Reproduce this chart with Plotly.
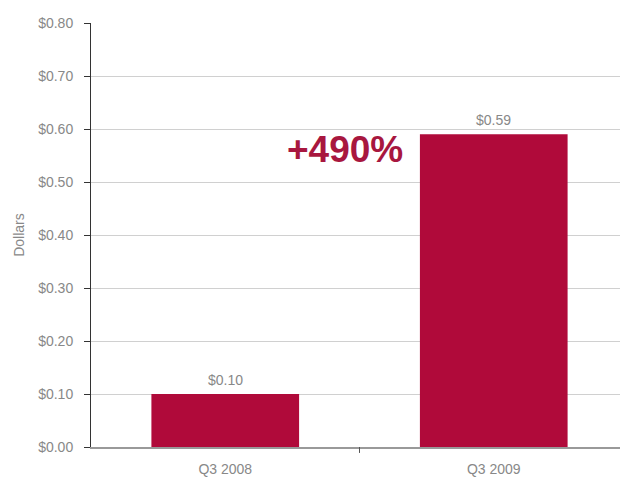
import plotly.graph_objects as go

categories = ["Q3 2008", "Q3 2009"]
values = [0.10, 0.59]
value_labels = ["$0.10", "$0.59"]
tick_vals = [0, 0.1, 0.2, 0.3, 0.4, 0.5, 0.6, 0.7, 0.8]
tick_text = ["$0.00", "$0.10", "$0.20", "$0.30", "$0.40", "$0.50", "$0.60", "$0.70", "$0.80"]
growth_label = "+490%"

font_family = "Liberation Sans, Arial, sans-serif"
gray = "#888888"

fig = go.Figure()
fig.add_trace(go.Bar(
    x=categories, y=values,
    marker=dict(color="#B00A3A", line=dict(width=0)),
    width=0.55,
    showlegend=False,
))

for cat, val, lab in zip(categories, values, value_labels):
    fig.add_annotation(
        x=cat, y=val, xref="x", yref="y", text=lab, showarrow=False,
        yanchor="bottom", yshift=4,
        font=dict(family=font_family, size=14, color=gray),
    )

fig.add_annotation(
    x=0.447, y=0.562, xref="x", yref="y",
    text="<b>" + growth_label + "</b>", showarrow=False,
    font=dict(family=font_family, size=37, color="#A8173F"),
)

# page body has an 8px margin, so the figure is sized to fit the 628x483 window
fig.update_layout(
    width=620, height=475,
    margin=dict(l=83, r=0, t=15, b=36, autoexpand=False),
    paper_bgcolor="white", plot_bgcolor="white",
    showlegend=False,
    xaxis=dict(
        type="category", automargin=False,
        showgrid=False,
        showline=True, linecolor="#999999", linewidth=2,
        ticks="", tickfont=dict(family=font_family, size=14, color=gray),
        ticklabelstandoff=8,
        range=[-0.5, 1.5],
    ),
    yaxis=dict(
        range=[0, 0.8], automargin=False,
        tickvals=tick_vals, ticktext=tick_text,
        tickfont=dict(family=font_family, size=14, color=gray),
        ticklabelstandoff=8,
        showgrid=True, gridcolor="#d0d0d0", gridwidth=1,
        showline=True, linecolor="#333333", linewidth=1,
        ticks="outside", ticklen=6, tickcolor="#333333",
        zeroline=False,
        title=dict(text="Dollars", font=dict(family=font_family, size=14, color=gray), standoff=10),
    ),
)

fig.add_shape(type="line", xref="x", yref="paper", x0=0.5, x1=0.5, y0=0, y1=-0.014,
              line=dict(color="#555555", width=1))

fig.write_html("out.html")
